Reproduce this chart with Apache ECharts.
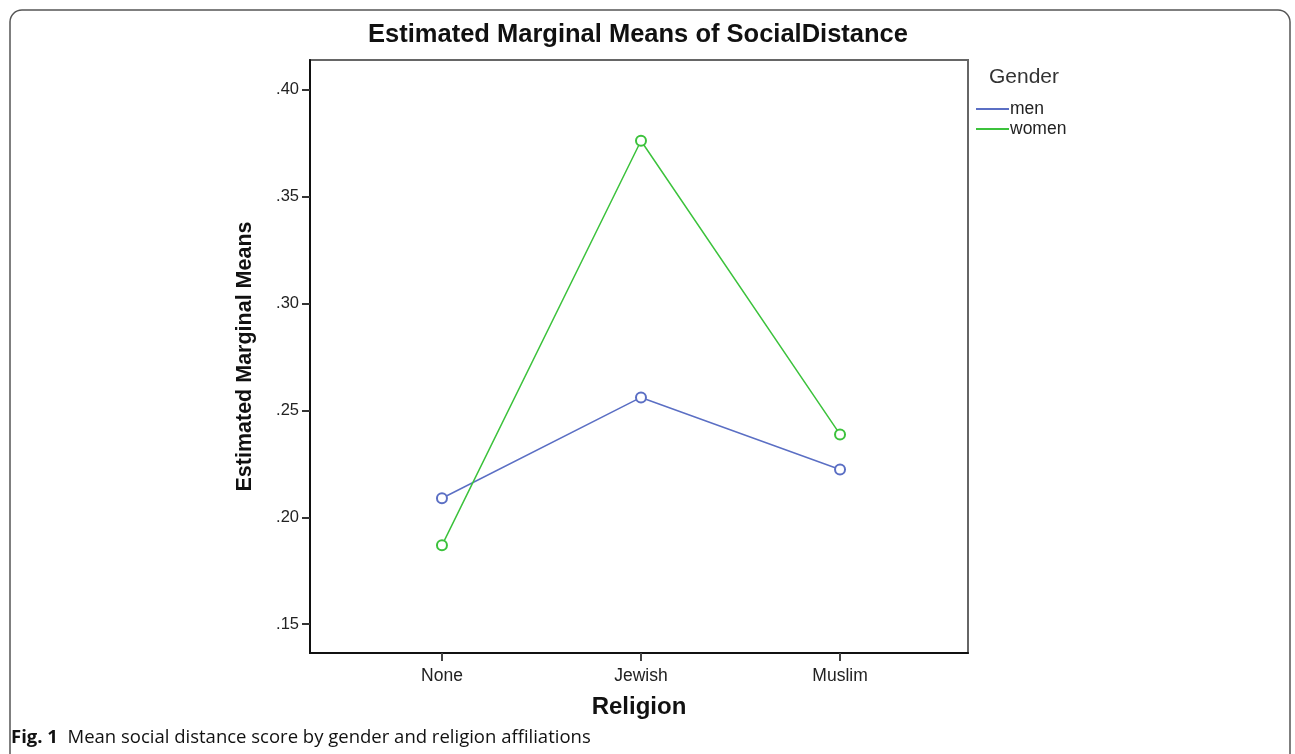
<!DOCTYPE html>
<html><head><meta charset="utf-8">
<script src="https://cdn.jsdelivr.net/npm/echarts@6/dist/echarts.min.js"></script>
<style>html,body{margin:0;padding:0;background:#fff}#c{width:1295px;height:754px}</style>
</head><body><div id="c"></div>
<script>
const categories = ['None', 'Jewish', 'Muslim'];
const menValues = [0.2089, 0.2561, 0.2224];
const womenValues = [0.1869, 0.3762, 0.2388];
const yTicks = [0.15, 0.20, 0.25, 0.30, 0.35, 0.40];
const seriesNames = ['men', 'women'];

const chart = echarts.init(document.getElementById('c'), null, {renderer: 'canvas'});
const font = '"Liberation Sans", Arial, sans-serif';
const mk = (vals) => vals.map((v, i) => [i, v]);
chart.setOption({
  animation: false,
  backgroundColor: '#fff',
  title: {
    text: 'Estimated Marginal Means of SocialDistance',
    left: 638, top: 22, textAlign: 'center', padding: 0,
    textStyle: {fontFamily: font, fontWeight: 'bold', fontSize: 25.5, color: '#111'}
  },
  legend: {
    orient: 'vertical', left: 976, top: 100, itemGap: 2, padding: 0,
    itemWidth: 33, itemHeight: 2, icon: 'rect',
    textStyle: {fontFamily: font, fontSize: 17.5, color: '#222', padding: [7,0,0,-4]},
    data: seriesNames
  },
  grid: {left: 310, top: 60, width: 658, height: 593, show: true, borderColor: '#666', borderWidth: 2},
  xAxis: {
    type: 'value', min: -0.663, max: 2.643, interval: 1,
    name: 'Religion', nameLocation: 'middle', nameGap: 42,
    nameTextStyle: {fontFamily: font, fontWeight: 'bold', fontSize: 24, color: '#111'},
    axisLine: {onZero: false, lineStyle: {color: '#111', width: 2}},
    axisTick: {show: true, length: 8, lineStyle: {color: '#444', width: 2}, customValues: [0,1,2]},
    axisLabel: {fontFamily: font, fontSize: 17.5, color: '#222', margin: 14,
      customValues: [0,1,2],
      formatter: v => categories[Math.round(v)] || ''},
    splitLine: {show: false}
  },
  yAxis: {
    type: 'value', min: 0.1365, max: 0.414,
    name: 'Estimated Marginal Means', nameLocation: 'middle', nameGap: 54,
    nameTextStyle: {fontFamily: font, fontWeight: 'bold', fontSize: 21.5, color: '#111'},
    axisLine: {onZero: false, lineStyle: {color: '#111', width: 2}},
    axisTick: {show: true, length: 8, lineStyle: {color: '#333', width: 2}, customValues: yTicks},
    axisLabel: {fontFamily: font, fontSize: 16.5, color: '#222', margin: 11,
      customValues: yTicks,
      formatter: v => v.toFixed(2).replace(/^0/, '')},
    splitLine: {show: false}
  },
  series: [
    {name: seriesNames[0], type: 'line', data: mk(menValues), color: '#5b6fc4',
     lineStyle: {width: 1.5, color: '#5b6fc4'}, symbol: 'emptyCircle', symbolSize: 10,
     itemStyle: {color: '#5b6fc4', borderWidth: 1.5}},
    {name: seriesNames[1], type: 'line', data: mk(womenValues), color: '#3cc23c',
     lineStyle: {width: 1.5, color: '#3cc23c'}, symbol: 'emptyCircle', symbolSize: 10,
     itemStyle: {color: '#3cc23c', borderWidth: 1.5}}
  ],
  graphic: [
    {type: 'rect', shape: {x: 10, y: 10, width: 1280, height: 800, r: 12},
     style: {fill: null, stroke: '#555', lineWidth: 1.5}, silent: true},
    {type: 'text', left: 989, top: 67,
     style: {text: 'Gender', font: '21px ' + font, fill: '#333'}},
    {type: 'text', left: 11, top: 728,
     style: {text: '{b|Fig. 1}  Mean social distance score by gender and religion affiliations',
       font: '18.5px "Open Sans", "Noto Sans", sans-serif', fill: '#111',
       rich: {b: {fontWeight: 'bold', fontSize: 18.5, fontFamily: '"Open Sans", "Noto Sans", sans-serif', fill: '#111'}}}}
  ]
});
</script></body></html>
